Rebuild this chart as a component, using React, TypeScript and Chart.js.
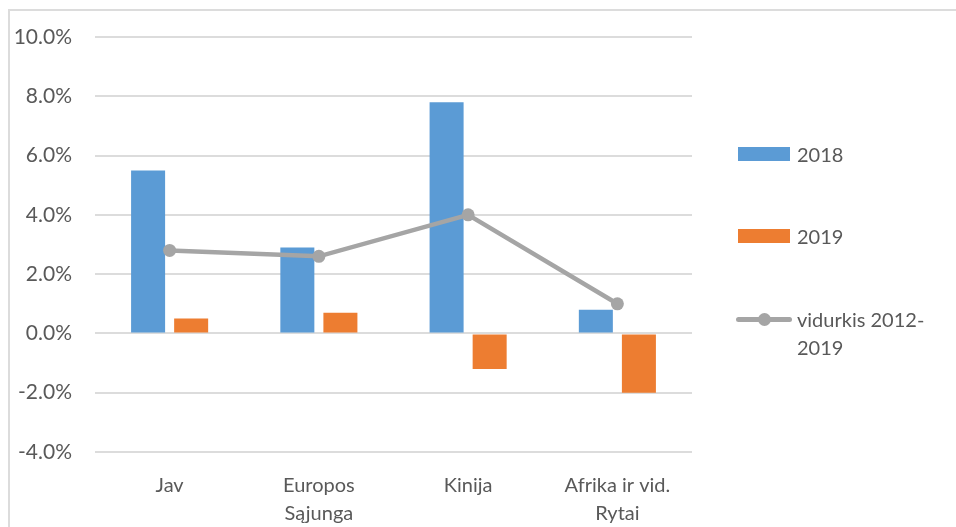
import React, { useEffect, useRef } from "react";
import { Chart, registerables } from "chart.js";

Chart.register(...registerables);

// Regions on the category axis (multi-line labels as arrays)
const categories: (string | string[])[] = [
  "Jav",
  ["Europos", "Sąjunga"],
  "Kinija",
  ["Afrika ir vid.", "Rytai"],
];

// Growth rates, %
const values2018 = [5.5, 2.9, 7.8, 0.8];
const values2019 = [0.5, 0.7, -1.2, -2.0];
const average2012to2019 = [2.8, 2.6, 4.0, 1.0];

const seriesNames = ["2018", "2019", "vidurkis 2012-2019"];
const legendLines = [["2018"], ["2019"], ["vidurkis 2012-", "2019"]];

const yTicks = { min: -4, max: 10, step: 2 };

const BLUE = "#5B9BD5";
const ORANGE = "#ED7D31";
const GREY = "#A5A5A5";
const TEXT = "#595959";
const GRID = "#DCDCDC";
const FONT = "Lato, 'Open Sans', sans-serif";

const CANVAS_W = 938;
const CANVAS_H = 516;

export default function App() {
  const canvasRef = useRef<HTMLCanvasElement | null>(null);

  useEffect(() => {
    if (!canvasRef.current) return;
    const chart = new Chart(canvasRef.current, {
      type: "bar",
      data: {
        labels: categories,
        datasets: [
          {
            type: "line",
            label: seriesNames[2],
            data: average2012to2019,
            borderColor: GREY,
            backgroundColor: GREY,
            borderWidth: 4.5,
            pointRadius: 6.5,
            pointBackgroundColor: GREY,
            pointBorderWidth: 0,
            order: 0,
          } as any,
          {
            type: "bar",
            label: seriesNames[0],
            data: values2018,
            backgroundColor: BLUE,
            categoryPercentage: 0.577,
            barPercentage: 0.79,
            order: 1,
          },
          {
            type: "bar",
            label: seriesNames[1],
            data: values2019,
            backgroundColor: ORANGE,
            categoryPercentage: 0.577,
            barPercentage: 0.79,
            order: 1,
          },
        ],
      },
      options: {
        responsive: false,
        animation: false,
        layout: { padding: { top: 26, right: 256, left: 0, bottom: 0 } },
        plugins: {
          legend: { display: false },
          tooltip: { enabled: false },
        },
        scales: {
          x: {
            grid: { display: false },
            border: { display: false },
            ticks: {
              color: TEXT,
              font: { family: FONT, size: 20, lineHeight: 1.4 },
              padding: 12,
              maxRotation: 0,
              autoSkip: false,
            },
            afterFit: (scale: any) => {
              scale.height = 75;
            },
          },
          y: {
            min: yTicks.min,
            max: yTicks.max,
            border: { display: false },
            grid: { color: GRID, lineWidth: 2, drawTicks: false },
            ticks: {
              stepSize: yTicks.step,
              color: TEXT,
              font: { family: FONT, size: 21 },
              padding: 23,
              callback: (v: any) => Number(v).toFixed(1) + "%",
            },
            afterFit: (scale: any) => {
              scale.width = 85;
              scale.paddingTop = 0;
              scale.paddingBottom = 0;
            },
          },
        },
      },
    });
    return () => chart.destroy();
  }, []);

  const legendColors = [BLUE, ORANGE, GREY];
  const legendTops = [129, 211, 294];

  return (
    <div
      style={{
        position: "fixed",
        left: 8,
        top: 9,
        width: 948,
        height: 518,
        borderTop: `2px solid ${GRID}`,
        borderLeft: `2px solid ${GRID}`,
        boxSizing: "border-box",
        overflow: "hidden",
        background: "#fff",
      }}
    >
      <canvas
        ref={canvasRef}
        width={CANVAS_W}
        height={CANVAS_H}
        style={{ position: "absolute", left: 0, top: 0 }}
      />
      {legendLines.map((lines, i) => (
        <div
          key={seriesNames[i]}
          style={{
            position: "absolute",
            left: 726,
            top: legendTops[i],
            display: "flex",
            alignItems: "flex-start",
            fontFamily: FONT,
            fontSize: 20,
            lineHeight: "28px",
            color: TEXT,
          }}
        >
          <div style={{ width: 61, height: 28, position: "relative" }}>
            {i < 2 ? (
              <div
                style={{
                  position: "absolute",
                  left: 2,
                  top: 7,
                  width: 52,
                  height: 14,
                  background: legendColors[i],
                }}
              />
            ) : (
              <>
                <div
                  style={{
                    position: "absolute",
                    left: 0,
                    top: 11.5,
                    width: 56,
                    height: 5,
                    borderRadius: 2.5,
                    background: legendColors[i],
                  }}
                />
                <div
                  style={{
                    position: "absolute",
                    left: 21.5,
                    top: 7.5,
                    width: 13,
                    height: 13,
                    borderRadius: "50%",
                    background: legendColors[i],
                  }}
                />
              </>
            )}
          </div>
          <div>
            {lines.map((t) => (
              <div key={t}>{t}</div>
            ))}
          </div>
        </div>
      ))}
    </div>
  );
}
